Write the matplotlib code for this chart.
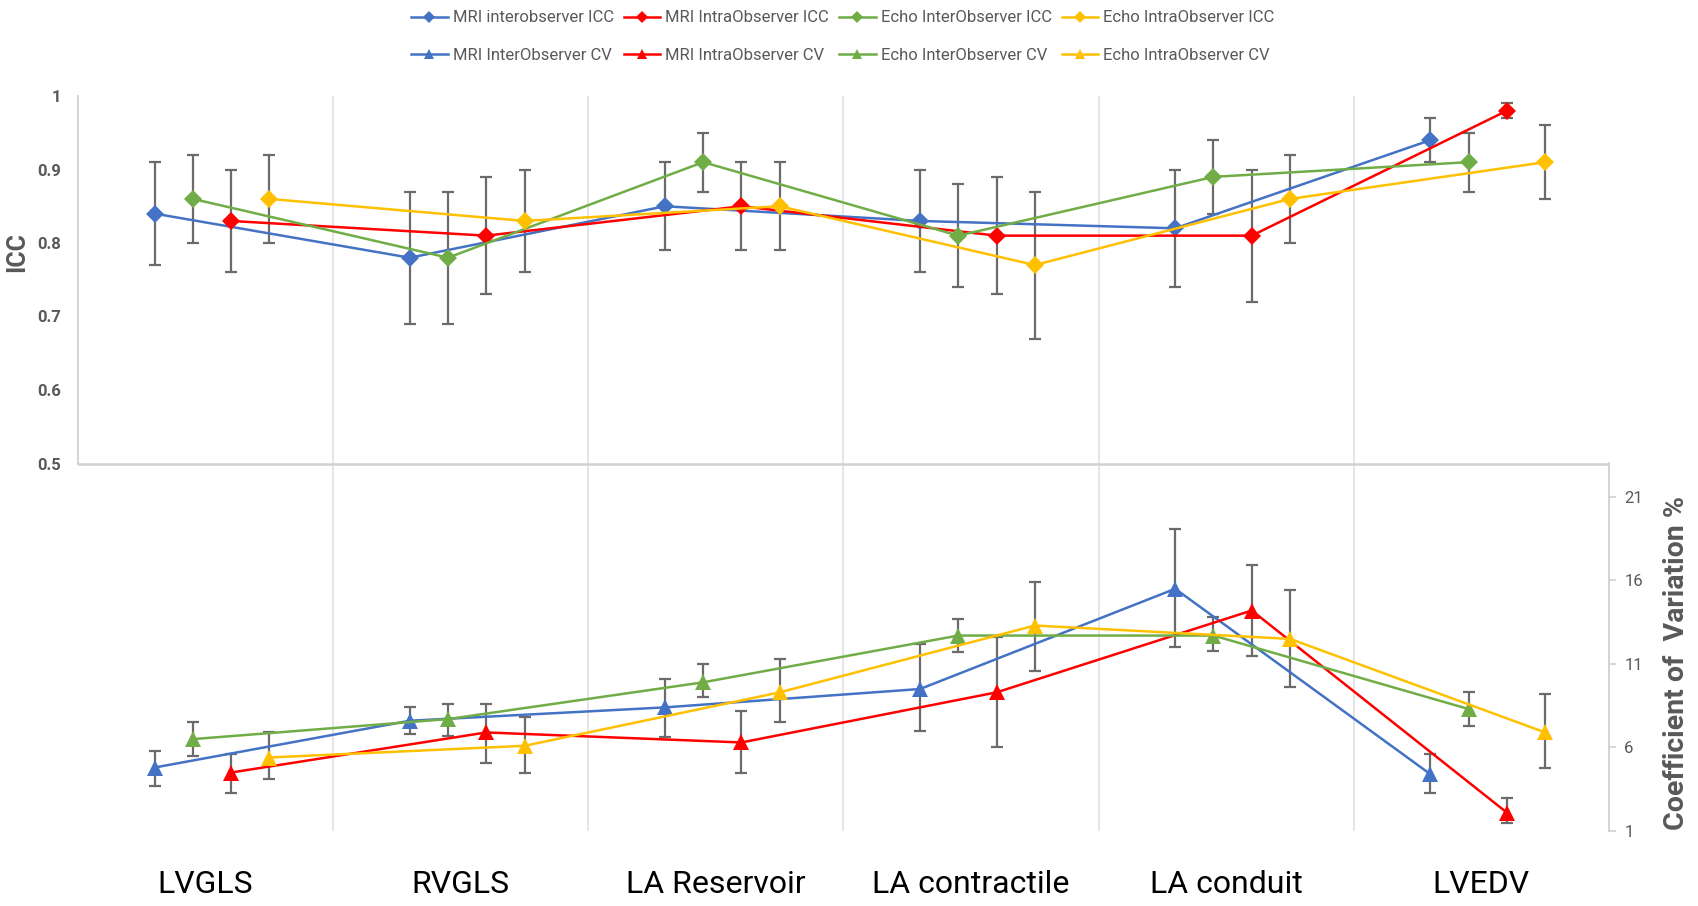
import numpy as np
import matplotlib.pyplot as plt
from matplotlib import font_manager

names = {f.name for f in font_manager.fontManager.ttflist}
FONT = 'Liberation Sans Narrow' if 'Liberation Sans Narrow' in names else 'Roboto'
plt.rcParams['font.family'] = [FONT, 'DejaVu Sans']

categories = ['LVGLS', 'RVGLS', 'LA Reservoir', 'LA contractile', 'LA conduit', 'LVEDV']

# ICC (left axis): value, lower, upper
mri_inter_icc = [0.84, 0.78, 0.85, 0.83, 0.82, 0.94]
mri_inter_icc_lo = [0.77, 0.69, 0.79, 0.76, 0.74, 0.91]
mri_inter_icc_hi = [0.91, 0.87, 0.91, 0.90, 0.90, 0.97]
mri_intra_icc = [0.83, 0.81, 0.85, 0.81, 0.81, 0.98]
mri_intra_icc_lo = [0.76, 0.73, 0.79, 0.73, 0.72, 0.97]
mri_intra_icc_hi = [0.90, 0.89, 0.91, 0.89, 0.90, 0.99]
echo_inter_icc = [0.86, 0.78, 0.91, 0.81, 0.89, 0.91]
echo_inter_icc_lo = [0.80, 0.69, 0.87, 0.74, 0.84, 0.87]
echo_inter_icc_hi = [0.92, 0.87, 0.95, 0.88, 0.94, 0.95]
echo_intra_icc = [0.86, 0.83, 0.85, 0.77, 0.86, 0.91]
echo_intra_icc_lo = [0.80, 0.76, 0.79, 0.67, 0.80, 0.86]
echo_intra_icc_hi = [0.92, 0.90, 0.91, 0.87, 0.92, 0.96]

# coefficient of variation % (right axis)
mri_inter_cv = [4.8, 7.6, 8.4, 9.5, 15.5, 4.4]
mri_inter_cv_lo = [3.7, 6.8, 6.6, 7.0, 12.0, 3.3]
mri_inter_cv_hi = [5.8, 8.4, 10.1, 12.2, 19.1, 5.6]
mri_intra_cv = [4.5, 6.9, 6.3, 9.3, 14.2, 2.1]
mri_intra_cv_lo = [3.3, 5.1, 4.5, 6.0, 11.5, 1.5]
mri_intra_cv_hi = [5.6, 8.6, 8.2, 12.6, 16.9, 3.0]
echo_inter_cv = [6.5, 7.7, 9.9, 12.7, 12.7, 8.3]
echo_inter_cv_lo = [5.5, 6.7, 9.0, 11.7, 11.8, 7.3]
echo_inter_cv_hi = [7.5, 8.6, 11.0, 13.7, 13.8, 9.3]
echo_intra_cv = [5.4, 6.1, 9.3, 13.3, 12.5, 6.9]
echo_intra_cv_lo = [4.1, 4.5, 7.5, 10.6, 9.6, 4.8]
echo_intra_cv_hi = [6.9, 7.8, 11.3, 15.9, 15.4, 9.2]

BLUE, RED, GREEN, YELLOW = '#4472C4', '#FF0000', '#70AD47', '#FFC000'
GRAY = '#595959'
ERR = '#6B6B6B'

fig = plt.figure(figsize=(16.99, 9.06), dpi=100)
ax = fig.add_axes([78/1699, 1-831/906, (1609-78)/1699, (831-96)/906])
ax2 = ax.twinx()

x = np.arange(len(categories))

icc_series = [
    ('MRI interobserver ICC', mri_inter_icc, mri_inter_icc_lo, mri_inter_icc_hi, BLUE, 0.30),
    ('MRI IntraObserver ICC', mri_intra_icc, mri_intra_icc_lo, mri_intra_icc_hi, RED, 0.60),
    ('Echo InterObserver ICC', echo_inter_icc, echo_inter_icc_lo, echo_inter_icc_hi, GREEN, 0.45),
    ('Echo IntraObserver ICC', echo_intra_icc, echo_intra_icc_lo, echo_intra_icc_hi, YELLOW, 0.75),
]
cv_series = [
    ('MRI InterObserver CV', mri_inter_cv, mri_inter_cv_lo, mri_inter_cv_hi, BLUE, 0.30),
    ('MRI IntraObserver CV', mri_intra_cv, mri_intra_cv_lo, mri_intra_cv_hi, RED, 0.60),
    ('Echo InterObserver CV', echo_inter_cv, echo_inter_cv_lo, echo_inter_cv_hi, GREEN, 0.45),
    ('Echo IntraObserver CV', echo_intra_cv, echo_intra_cv_lo, echo_intra_cv_hi, YELLOW, 0.75),
]

handles = []
for (series, axis, marker, ms) in [(icc_series, ax, 'D', 9), (cv_series, ax2, '^', 11)]:
    hs = []
    for label, v, lo, hi, col, off in series:
        v, lo, hi = np.array(v), np.array(lo), np.array(hi)
        xs = x + off
        axis.errorbar(xs, v, yerr=[v - lo, hi - v], fmt='none', ecolor=ERR,
                      elinewidth=1.6, capsize=4, capthick=1.6, zorder=2)
        h, = axis.plot(xs, v, color=col, lw=1.8, marker=marker, ms=ms,
                       markeredgewidth=0, label=label, zorder=3)
        hs.append(h)
    handles.append(hs)

# left axis: ICC
ax.set_xlim(0, len(categories))
ax.set_ylim(0, 1)
ax.set_yticks([0.5, 0.6, 0.7, 0.8, 0.9, 1.0])
ax.set_yticklabels(['0.5', '0.6', '0.7', '0.8', '0.9', '1'])
ax.tick_params(axis='y', length=0, pad=12, labelsize=12, labelcolor=GRAY)
for t in ax.get_yticklabels():
    t.set_fontweight('bold')
ax.spines['left'].set_bounds(0.5, 1)
ax.spines['left'].set_color('#D0D0D0')
ax.spines['left'].set_linewidth(1.3)
for s in ['top', 'right', 'bottom']:
    ax.spines[s].set_visible(False)
ax.axhline(0.5, color='#D0D0D0', lw=1.8, zorder=1)
for b in range(1, len(categories)):
    ax.axvline(b, color='#E3E3E3', lw=1.3, zorder=0)
ax.set_ylabel('ICC', fontsize=18, fontweight='bold', color=GRAY)
ax.yaxis.set_label_coords(-0.032, 0.787)

ax.set_xticks(x + 0.5)
ax.set_xticklabels(categories, fontsize=23)
ax.tick_params(axis='x', length=0, pad=28)

# right axis: CV
ax2.set_ylim(1, 45)
ax2.set_yticks([1, 6, 11, 16, 21])
ax2.tick_params(axis='y', length=5, width=1.2, color='#D0D0D0', pad=6,
                labelsize=12, labelcolor=GRAY)
ax2.spines['right'].set_bounds(1, 23.04)
ax2.spines['right'].set_color('#D0D0D0')
ax2.spines['right'].set_linewidth(1.3)
for s in ['top', 'left', 'bottom']:
    ax2.spines[s].set_visible(False)
ax2.set_ylabel('Coefficient of  Variation %', fontsize=20.5, fontweight='bold',
               color=GRAY, rotation=90)
ax2.yaxis.set_label_coords(1.035, 0.229)

# legend: row 1 ICC, row 2 CV (column-major filling)
order = []
for a, b in zip(handles[0], handles[1]):
    order += [a, b]
leg = fig.legend(handles=order, labels=[h.get_label() for h in order],
                 loc='upper center', bbox_to_anchor=(0.496, 1.005), ncol=4,
                 frameon=False, fontsize=12, handlelength=2.2, handletextpad=0.3,
                 columnspacing=0.6, labelspacing=1.35, markerscale=0.7)
for t in leg.get_texts():
    t.set_color(GRAY)

fig.savefig('out.png', dpi=100)
